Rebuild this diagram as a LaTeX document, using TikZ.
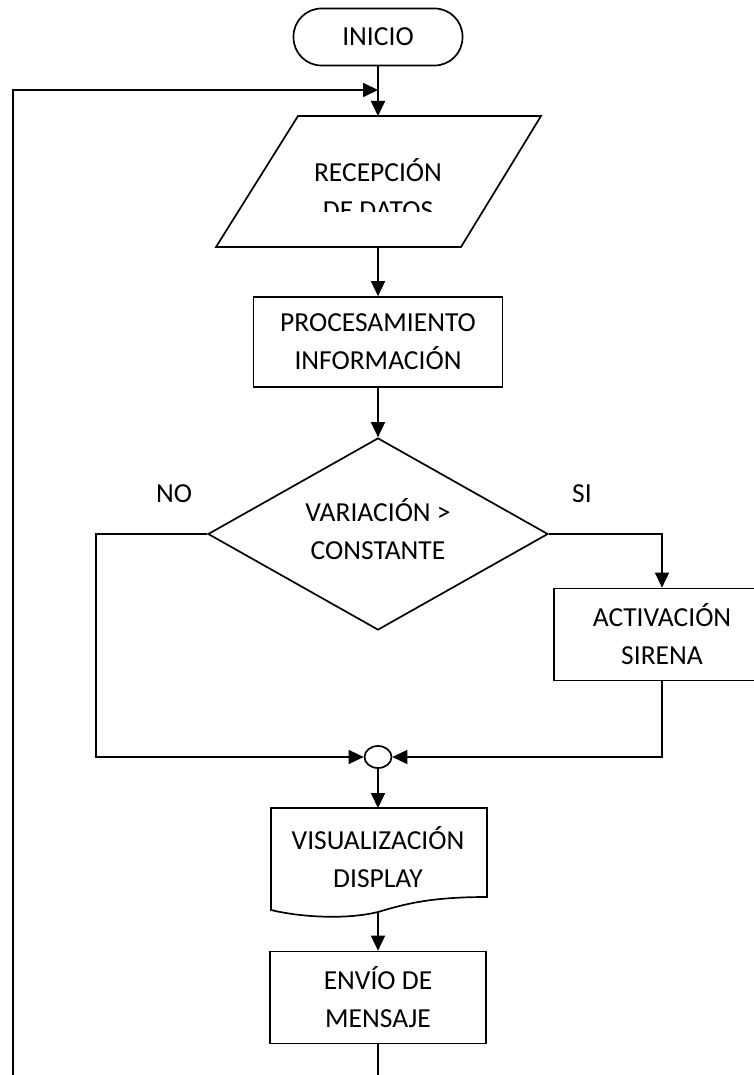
\documentclass[tikz,border=0pt]{standalone}
\usepackage{fontspec}
\setmainfont{Carlito}
\usetikzlibrary{shapes.geometric,arrows.meta}
\begin{document}
\begin{tikzpicture}[x=1pt,y=-1pt,
  every node/.style={font=\fontsize{27.5}{38}\selectfont, align=center, inner sep=0pt},
  shape line/.style={draw=black, line width=1.7pt},
  procbox/.style={shape line, rectangle, minimum width=216pt, minimum height=92pt},
  flow/.style={line width=1.7pt, -{Triangle[length=15pt,width=14pt]}},
  plain/.style={line width=1.7pt}]
\clip (0,0) rectangle (754,1075);
\fill[white] (0,0) rectangle (754,1075);

% start terminal
\node[shape line, rectangle, rounded corners=28pt, minimum width=169pt, minimum height=57pt] (inicio) at (378,37) {INICIO};

% data input (parallelogram)
\coordinate (datosT) at (378,116);
\coordinate (datosB) at (378,247);
\draw[shape line, line join=miter] (298,116) -- (541,116) -- (461,247) -- (216,247) -- cycle;
\begin{scope}
  \clip (200,120) rectangle (560,212);
  \node (datos) at (378,189) {RECEPCIÓN\\DE DATOS};
\end{scope}

% processing
\node[shape line, rectangle, minimum width=249pt, minimum height=90pt] (proc) at (378,342) {PROCESAMIENTO\\INFORMACIÓN};

% decision
\node[shape line, diamond, minimum width=340pt, minimum height=192pt] (dec) at (378,534) {};
\node (dectext) at (378,529) {VARIACIÓN >\\CONSTANTE};
\node (no) at (174,494) {NO};
\node (si) at (582,494) {SI};

% alarm
\node[procbox] (sir) at (662,634.5) {ACTIVACIÓN\\SIRENA};

% junction
\node[shape line, ellipse, minimum width=27pt, minimum height=22pt] (join) at (378,757) {};

% display (document shape)
\coordinate (dispT) at (378,808);
\coordinate (dispB) at (378,912);
\draw[shape line, line join=miter] (271,910) -- (271,808) -- (487,808) -- (487,897)
  .. controls (430,897) and (405,904) .. (378,912)
  .. controls (345,920) and (300,917) .. (271,910) -- cycle;
\node (disp) at (378,857) {VISUALIZACIÓN\\DISPLAY};

% message
\node[procbox] (env) at (378,997.5) {ENVÍO DE\\MENSAJE};

% return path
\coordinate (loopin) at (378,90);
\coordinate (loopstart) at (13,1080);
\coordinate (envout) at (378,1080);
\coordinate (nobend) at (96,757);

% connectors
\draw[flow] (inicio.south) -- (datosT);
\draw[flow] (loopstart) |- (loopin);
\draw[flow] (datosB) -- (proc.north);
\draw[flow] (proc.south) -- (dec.north);
\draw[flow] (dec.west) -| (nobend) -- (join.west);
\draw[flow] (dec.east) -| (sir.north);
\draw[flow] (sir.south) |- (join.east);
\draw[flow] (join.south) -- (dispT);
\draw[flow] (dispB) -- (env.north);
\draw[plain] (env.south) -- (envout);
\end{tikzpicture}
\end{document}
